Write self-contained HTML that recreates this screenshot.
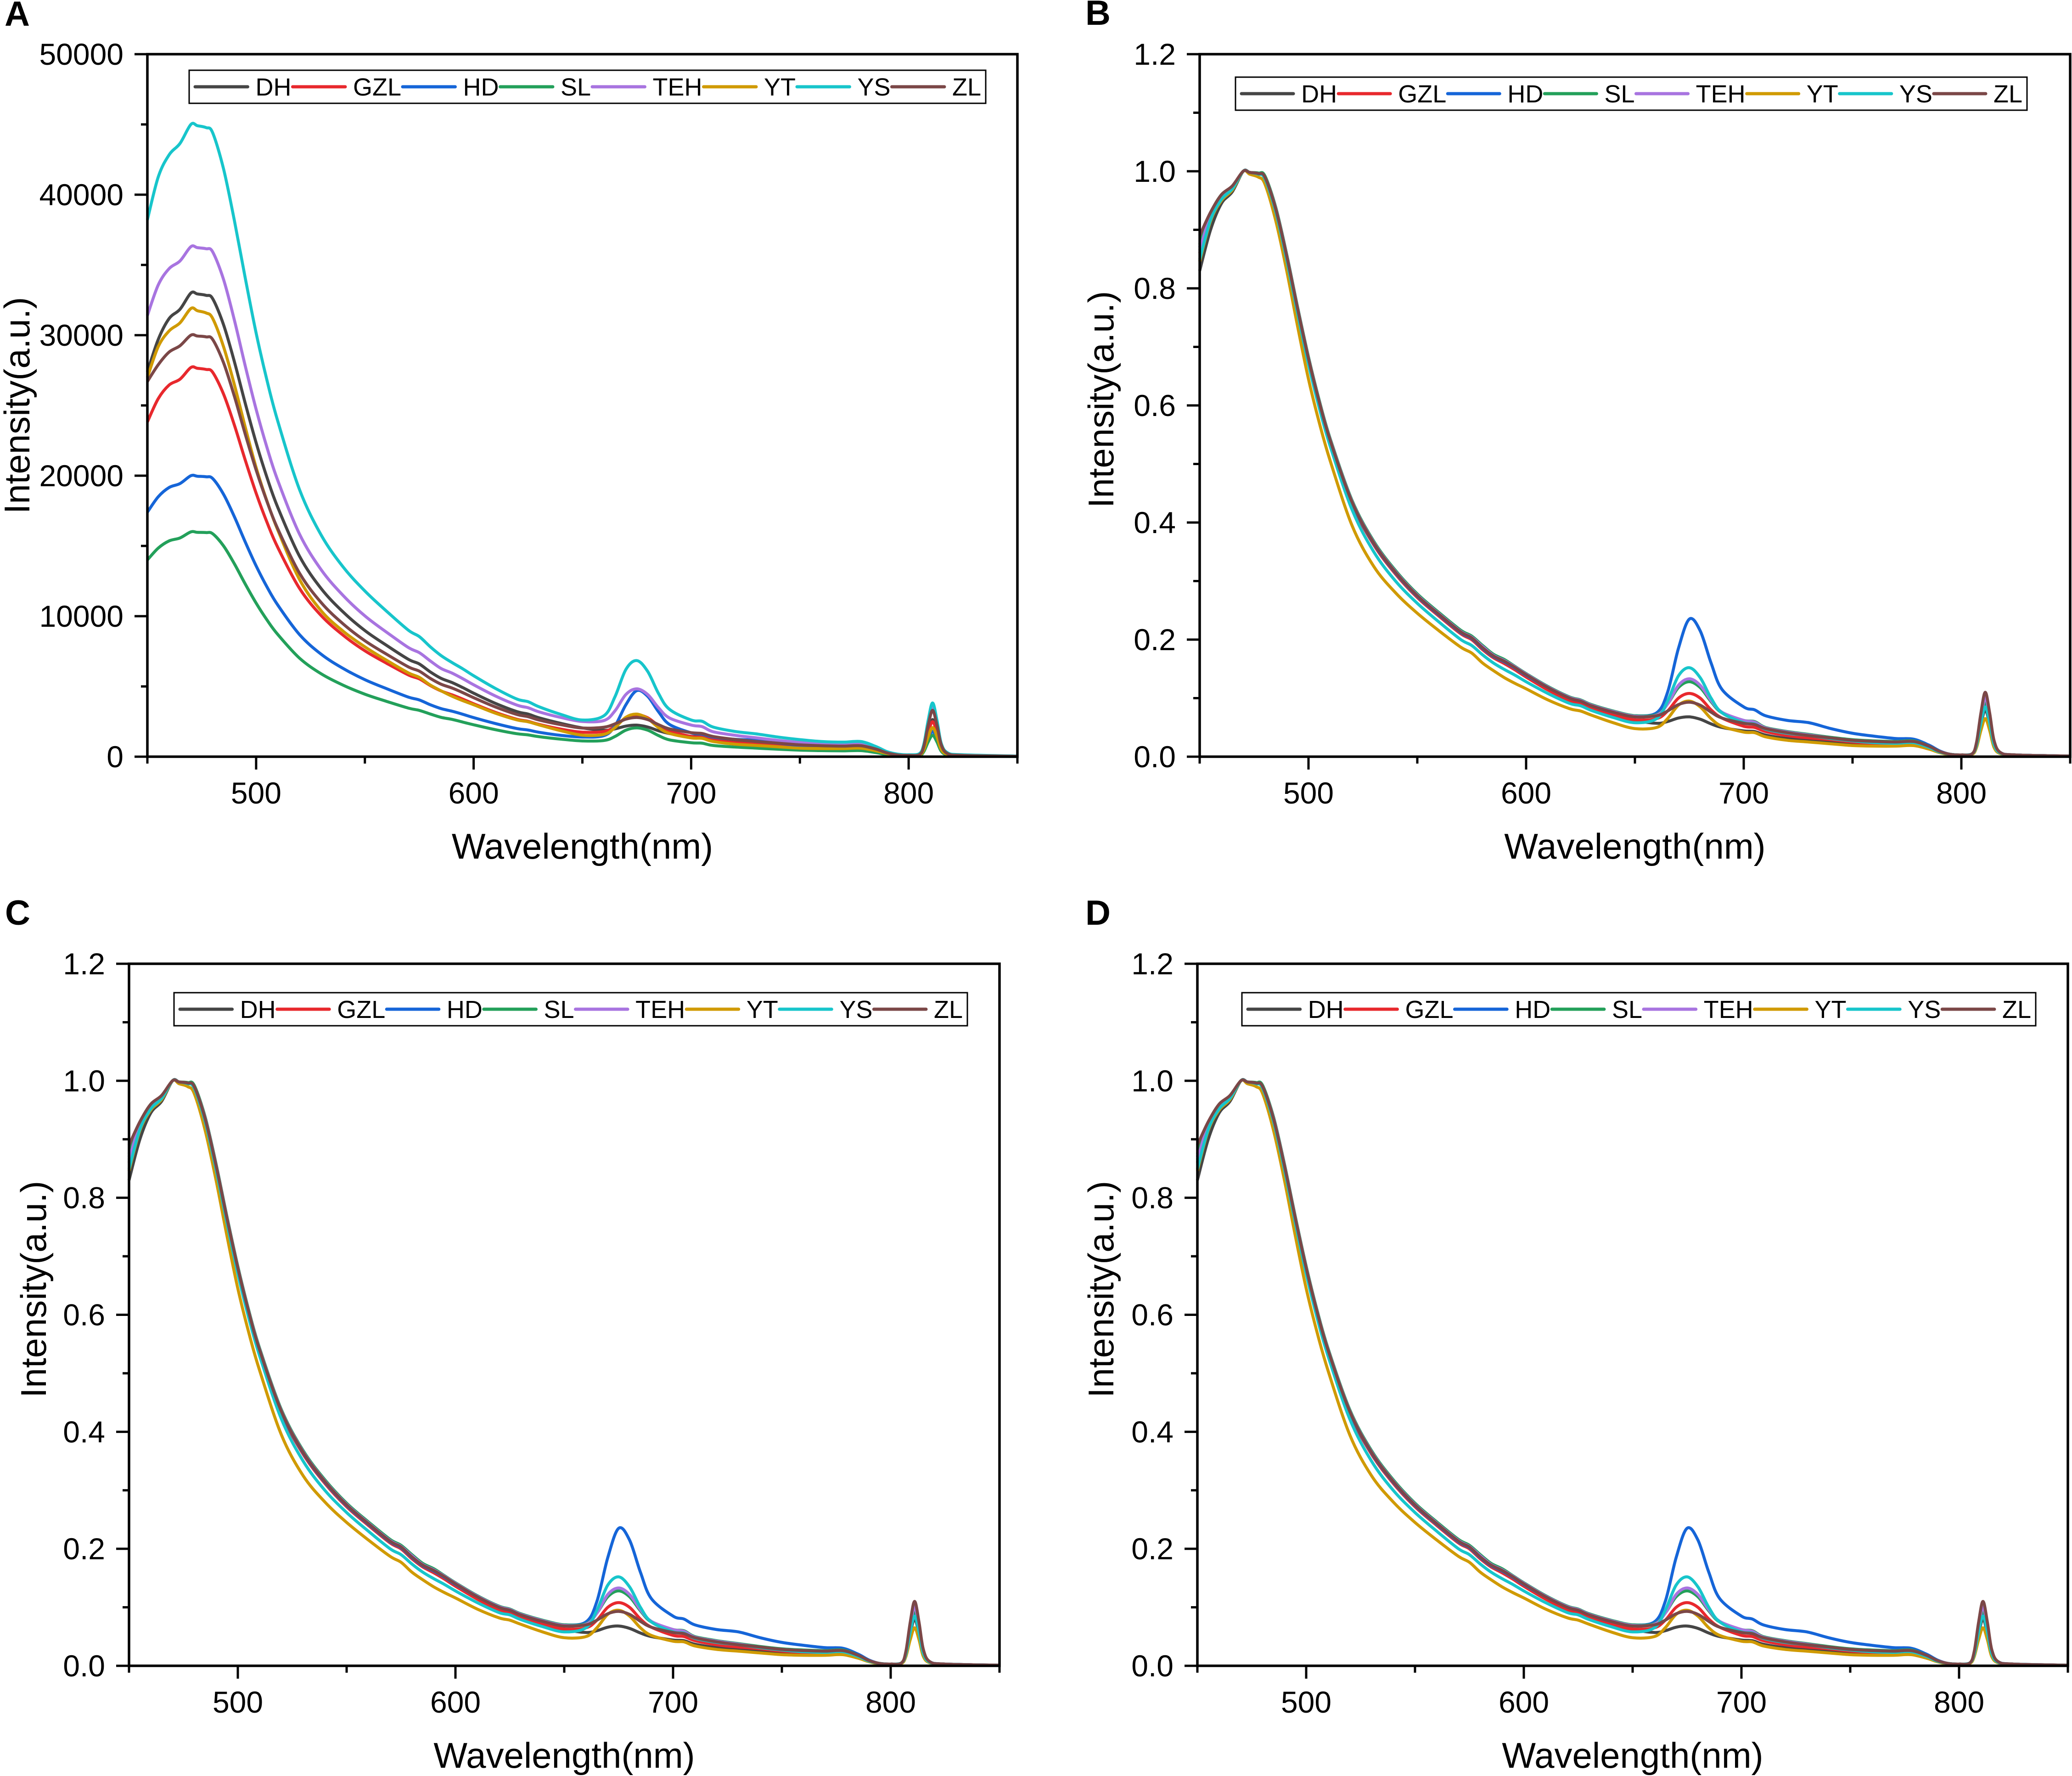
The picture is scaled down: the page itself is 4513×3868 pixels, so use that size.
<!DOCTYPE html>
<html><head><meta charset="utf-8">
<style>
html,body{margin:0;padding:0;background:#fff;}
svg{display:block;font-family:"Liberation Sans",Arial,sans-serif;}
</style></head>
<body>
<svg id="fig" width="4513" height="3868" viewBox="0 0 4513 3868" xmlns="http://www.w3.org/2000/svg"></svg>
<script>
// ---- data ----
const wavelengths = [450,455,460,465,470,473,477,480,485,490,495,500,505,510,520,530,540,550,560,570,575,580,585,590,595,600,610,620,625,630,640,650,660,665,670,675,680,685,690,700,705,710,720,730,740,750,760,770,778,785,790,795,800,805,807,809,811,813,815,818,825,850];
const seriesNames = ["DH","GZL","HD","SL","TEH","YT","YS","ZL"];
const seriesColors = ["#454545","#e8282d","#1565d8","#23a05a","#a874e0","#d09a00","#17c5cb","#7b4747"];
// normalized spectra (panels B, C, D)
const normDH  = [.83,.9,.945,.965,1,.998,.995,.988,.932,.852,.762,.677,.602,.537,.432,.362,.312,.272,.24,.21,.2,.183,.169,.16,.149,.137,.115,.097,.092,.084,.072,.062,.057,.06,.066,.068,.064,.056,.05,.044,.043,.037,.031,.028,.025,.022,.021,.021,.022,.015,.008,.004,.003,.005,.02,.055,.08,.055,.02,.006,.003,.001];
const normGZL = [.86,.92,.955,.97,1,.998,.995,.988,.932,.852,.762,.677,.602,.537,.432,.362,.312,.272,.24,.21,.2,.183,.169,.159,.148,.136,.114,.096,.091,.083,.071,.063,.065,.078,.1,.108,.1,.08,.066,.052,.05,.043,.036,.032,.029,.025,.023,.023,.024,.016,.008,.004,.003,.005,.022,.062,.09,.062,.022,.006,.003,.001];
const normHD  = [.87,.925,.958,.972,1,.998,.996,.99,.934,.854,.764,.679,.604,.539,.434,.364,.314,.274,.242,.212,.202,.185,.171,.162,.151,.139,.118,.1,.095,.087,.076,.07,.075,.11,.185,.235,.215,.16,.115,.085,.08,.07,.062,.058,.048,.04,.035,.031,.03,.02,.01,.004,.003,.005,.022,.062,.09,.062,.022,.006,.003,.001];
const normSL  = [.875,.928,.96,.973,1,.998,.997,.992,.938,.858,.768,.683,.608,.543,.438,.368,.318,.278,.246,.216,.206,.19,.175,.166,.154,.142,.12,.102,.097,.089,.078,.07,.072,.09,.118,.128,.118,.094,.075,.062,.06,.05,.043,.038,.033,.029,.027,.026,.027,.018,.009,.004,.003,.005,.023,.066,.095,.066,.024,.007,.003,.001];
const normTEH = [.865,.925,.957,.972,1,.998,.996,.99,.936,.856,.766,.681,.606,.541,.436,.366,.316,.276,.244,.214,.204,.188,.173,.164,.153,.141,.119,.101,.096,.088,.077,.069,.071,.09,.122,.133,.122,.096,.076,.062,.059,.049,.042,.037,.032,.028,.026,.025,.026,.017,.009,.004,.003,.005,.024,.07,.1,.07,.025,.007,.003,.001];
const normYT  = [.846,.915,.95,.968,1,.995,.99,.978,.915,.83,.735,.645,.57,.505,.395,.325,.28,.245,.215,.187,.177,.16,.147,.135,.125,.116,.097,.082,.078,.071,.058,.048,.05,.065,.088,.095,.085,.065,.052,.042,.041,.034,.028,.025,.022,.019,.018,.018,.019,.013,.007,.003,.003,.004,.016,.045,.065,.045,.016,.005,.002,.001];
const normYS  = [.849,.917,.952,.97,1,.998,.995,.987,.93,.848,.757,.67,.595,.53,.422,.35,.3,.262,.23,.2,.19,.174,.16,.149,.139,.128,.108,.091,.087,.079,.067,.058,.065,.095,.138,.152,.135,.1,.075,.058,.056,.047,.04,.036,.031,.027,.024,.023,.024,.016,.008,.004,.003,.005,.02,.058,.085,.058,.021,.006,.003,.001];
const normZL  = [.89,.93,.96,.975,1,.998,.996,.99,.935,.855,.765,.68,.605,.54,.435,.365,.315,.275,.243,.213,.203,.186,.172,.163,.152,.14,.118,.1,.095,.087,.076,.068,.07,.078,.089,.093,.088,.076,.066,.057,.055,.048,.041,.036,.032,.028,.026,.025,.026,.018,.009,.004,.003,.005,.025,.075,.11,.075,.028,.007,.003,.001];
// raw peak intensities (panel A, a.u.) at ~470 nm
const peakIntensityA = [33000,27700,20000,16000,36300,31900,45000,30000];
const ticksXMajor = [500,600,700,800];
const ticksXMinor = [450,550,650,750,850];
const ticksYA = [0,10000,20000,30000,40000,50000];
const ticksYAMinor = [5000,15000,25000,35000,45000];
const tickLabelsYA = ["0","10000","20000","30000","40000","50000"];
const ticksYN = [0,0.2,0.4,0.6,0.8,1.0,1.2];
const ticksYNMinor = [0.1,0.3,0.5,0.7,0.9,1.1];
const tickLabelsYN = ["0.0","0.2","0.4","0.6","0.8","1.0","1.2"];

const normSeries = [normDH,normGZL,normHD,normSL,normTEH,normYT,normYS,normZL];
const NS = "http://www.w3.org/2000/svg";
const svg = document.getElementById('fig');
function el(tag, attrs, parent){
  const e = document.createElementNS(NS, tag);
  for (const k in attrs) e.setAttribute(k, attrs[k]);
  (parent||svg).appendChild(e);
  return e;
}
function pathFrom(pts){
  let d = "M"+pts[0][0].toFixed(1)+","+pts[0][1].toFixed(1);
  for (let i=0;i<pts.length-1;i++){
    const p0=pts[Math.max(0,i-1)],p1=pts[i],p2=pts[i+1],p3=pts[Math.min(pts.length-1,i+2)];
    const t=6;
    const c1=[p1[0]+(p2[0]-p0[0])/t,p1[1]+(p2[1]-p0[1])/t];
    const c2=[p2[0]-(p3[0]-p1[0])/t,p2[1]-(p3[1]-p1[1])/t];
    d+="C"+c1[0].toFixed(1)+","+c1[1].toFixed(1)+" "+c2[0].toFixed(1)+","+c2[1].toFixed(1)+" "+p2[0].toFixed(1)+","+p2[1].toFixed(1);
  }
  return d;
}

function drawPanel(cfg){
  const g = el('g',{});
  
  
  const L=cfg.left,R=cfg.right,T=cfg.top,B=cfg.bottom;
  const xs = v => L + (v-450)/(850-450)*(R-L);
  const ys = v => B - (v-cfg.ymin)/(cfg.ymax-cfg.ymin)*(B-T);
  const lt = el('text',{x:cfg.letterX,y:cfg.letterY,'font-size':76,'font-weight':'bold',fill:'#000'},g);
  lt.textContent = cfg.letter;
  
  
  const sg = el('g',{},g);
  
  
  cfg.data.forEach((arr,si)=>{
    const pts = wavelengths.map((w,i)=>[xs(w),ys(arr[i])]);
    const p = el('path',{d:pathFrom(pts),fill:'none',stroke:seriesColors[si],'stroke-width':6.5,'stroke-linejoin':'round'},sg);
    
    
  });
  const fr = el('rect',{x:L,y:T,width:R-L,height:B-T,fill:'none',stroke:'#000','stroke-width':5.5},g);
  
  
  ticksXMajor.forEach(v=>{
    const t=el('line',{x1:xs(v),x2:xs(v),y1:B,y2:B+28,stroke:'#000','stroke-width':5},g);
    
    
    const tx=el('text',{x:xs(v),y:B+102,'font-size':66,'text-anchor':'middle',fill:'#000'},g);
    tx.textContent=String(v);
    
    
  });
  ticksXMinor.forEach(v=>{
    const t=el('line',{x1:xs(v),x2:xs(v),y1:B,y2:B+15,stroke:'#000','stroke-width':5},g);
    
    
  });
  cfg.yt.forEach((v,i)=>{
    const t=el('line',{x1:L-28,x2:L,y1:ys(v),y2:ys(v),stroke:'#000','stroke-width':5},g);
    
    
    const tx=el('text',{x:L-52,y:ys(v)+23,'font-size':66,'text-anchor':'end',fill:'#000'},g);
    tx.textContent=cfg.ytl[i];
    
    
  });
  cfg.ytm.forEach(v=>{
    const t=el('line',{x1:L-14,x2:L,y1:ys(v),y2:ys(v),stroke:'#000','stroke-width':5},g);
    
    
  });
  const xt=el('text',{x:(L+R)/2,y:B+222,'font-size':78,'text-anchor':'middle',fill:'#000'},g);
  xt.textContent='Wavelength(nm)';
  
  
  const yt=el('text',{x:0,y:0,'font-size':78,'text-anchor':'middle',fill:'#000',transform:'translate('+(cfg.ytitleX+28)+','+cfg.ytitleY+') rotate(-90)'},g);
  yt.textContent='Intensity(a.u.)';
  
  
  const lg=el('g',{},g);
  
  
  const lb=el('rect',{x:cfg.lx,y:cfg.ly,width:cfg.lw,height:72,fill:'#fff',stroke:'#000','stroke-width':3},lg);
  
  
  const texts=[];let tw=0;
  seriesNames.forEach(n=>{
    const t=el('text',{x:0,y:cfg.ly+55,'font-size':54,fill:'#000'},lg);
    t.textContent=n;
    
    
    const w=t.getComputedTextLength();texts.push([t,w]);tw+=w;
  });
  const pad=10,gap=14;
  const lineLen=(cfg.lw-2*pad-tw-8*gap)/8;
  let cx=cfg.lx+pad;
  texts.forEach(([t,w],i)=>{
    const ln=el('line',{x1:cx+3,x2:cx+lineLen-3,y1:cfg.ly+36,y2:cfg.ly+36,stroke:seriesColors[i],'stroke-width':7,'stroke-linecap':'round'},lg);
    
    
    cx+=lineLen+gap;
    t.setAttribute('x',cx);
    cx+=w;
  });
}

const rawSeries = normSeries.map((arr,si)=>arr.map(v=>v*peakIntensityA[si]));

drawPanel({letter:'A',letterX:10,letterY:56,left:321,right:2216,top:118,bottom:1648,ymin:0,ymax:50000,
  yt:ticksYA,ytl:tickLabelsYA,ytm:ticksYAMinor,data:rawSeries,ytitleX:36,ytitleY:883,lx:412,ly:153,lw:1735});
drawPanel({letter:'B',letterX:2364,letterY:54,left:2613,right:4509,top:118,bottom:1648,ymin:0,ymax:1.2,
  yt:ticksYN,ytl:tickLabelsYN,ytm:ticksYNMinor,data:normSeries,ytitleX:2397,ytitleY:870,lx:2691,ly:168,lw:1724});
drawPanel({letter:'C',letterX:11,letterY:2014,left:281,right:2177,top:2099,bottom:3628,ymin:0,ymax:1.2,
  yt:ticksYN,ytl:tickLabelsYN,ytm:ticksYNMinor,data:normSeries,ytitleX:72,ytitleY:2808,lx:379,ly:2162,lw:1728});
drawPanel({letter:'D',letterX:2364,letterY:2014,left:2608,right:4504,top:2099,bottom:3628,ymin:0,ymax:1.2,
  yt:ticksYN,ytl:tickLabelsYN,ytm:ticksYNMinor,data:normSeries,ytitleX:2397,ytitleY:2808,lx:2705,ly:2162,lw:1729});
</script>
</body></html>
